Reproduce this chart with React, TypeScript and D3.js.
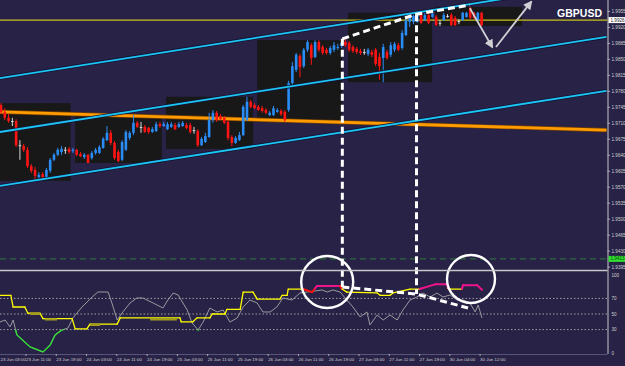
import * as d3 from "d3";

// hourly GBPUSD bars, [open, high, low, close]
const candles: [number, number, number, number][] = [
  [1.9750, 1.9754, 1.9730, 1.9735], [1.9735, 1.9743, 1.9717, 1.9722], [1.9722, 1.9730, 1.9711, 1.9715], [1.9715, 1.9722, 1.9704, 1.9715],
  [1.9715, 1.9719, 1.9658, 1.9662], [1.9662, 1.9673, 1.9630, 1.9662], [1.9660, 1.9665, 1.9647, 1.9652], [1.9652, 1.9658, 1.9612, 1.9616],
  [1.9616, 1.9621, 1.9601, 1.9606], [1.9608, 1.9614, 1.9586, 1.9595], [1.9592, 1.9603, 1.9586, 1.9597], [1.9599, 1.9603, 1.9588, 1.9592],
  [1.9592, 1.9612, 1.9590, 1.9608], [1.9606, 1.9634, 1.9601, 1.9630], [1.9630, 1.9645, 1.9627, 1.9641], [1.9641, 1.9656, 1.9638, 1.9652],
  [1.9647, 1.9660, 1.9641, 1.9654], [1.9652, 1.9658, 1.9643, 1.9652], [1.9654, 1.9658, 1.9643, 1.9647], [1.9649, 1.9656, 1.9645, 1.9652],
  [1.9652, 1.9654, 1.9638, 1.9641], [1.9643, 1.9647, 1.9636, 1.9638], [1.9636, 1.9645, 1.9632, 1.9641], [1.9641, 1.9643, 1.9625, 1.9623],
  [1.9634, 1.9649, 1.9630, 1.9645], [1.9645, 1.9656, 1.9641, 1.9652], [1.9645, 1.9662, 1.9643, 1.9658], [1.9656, 1.9680, 1.9654, 1.9676],
  [1.9673, 1.9704, 1.9671, 1.9689], [1.9689, 1.9695, 1.9662, 1.9667], [1.9667, 1.9671, 1.9630, 1.9634], [1.9647, 1.9652, 1.9625, 1.9627],
  [1.9630, 1.9673, 1.9627, 1.9669], [1.9652, 1.9695, 1.9649, 1.9691], [1.9678, 1.9693, 1.9673, 1.9689], [1.9689, 1.9728, 1.9684, 1.9711],
  [1.9711, 1.9715, 1.9700, 1.9702], [1.9702, 1.9713, 1.9689, 1.9702], [1.9702, 1.9706, 1.9689, 1.9691], [1.9700, 1.9702, 1.9687, 1.9691],
  [1.9691, 1.9702, 1.9689, 1.9697], [1.9693, 1.9713, 1.9691, 1.9708], [1.9708, 1.9713, 1.9700, 1.9704], [1.9704, 1.9713, 1.9702, 1.9708],
  [1.9697, 1.9713, 1.9695, 1.9708], [1.9702, 1.9713, 1.9700, 1.9708], [1.9706, 1.9711, 1.9695, 1.9697], [1.9702, 1.9713, 1.9700, 1.9708],
  [1.9704, 1.9715, 1.9702, 1.9711], [1.9706, 1.9711, 1.9697, 1.9700], [1.9706, 1.9711, 1.9687, 1.9691], [1.9695, 1.9702, 1.9687, 1.9695],
  [1.9693, 1.9697, 1.9658, 1.9662], [1.9662, 1.9680, 1.9660, 1.9676], [1.9669, 1.9689, 1.9667, 1.9682], [1.9680, 1.9733, 1.9678, 1.9717],
  [1.9717, 1.9739, 1.9711, 1.9733], [1.9733, 1.9737, 1.9713, 1.9717], [1.9726, 1.9730, 1.9717, 1.9719], [1.9722, 1.9726, 1.9708, 1.9711],
  [1.9713, 1.9717, 1.9673, 1.9678], [1.9680, 1.9684, 1.9660, 1.9667], [1.9667, 1.9682, 1.9665, 1.9678], [1.9673, 1.9691, 1.9671, 1.9684],
  [1.9684, 1.9750, 1.9682, 1.9746], [1.9717, 1.9768, 1.9715, 1.9757], [1.9757, 1.9761, 1.9743, 1.9746], [1.9750, 1.9754, 1.9741, 1.9743],
  [1.9746, 1.9750, 1.9737, 1.9739], [1.9743, 1.9748, 1.9733, 1.9737], [1.9739, 1.9743, 1.9730, 1.9733], [1.9728, 1.9737, 1.9726, 1.9733],
  [1.9728, 1.9748, 1.9726, 1.9743], [1.9735, 1.9743, 1.9733, 1.9739], [1.9737, 1.9741, 1.9726, 1.9730], [1.9735, 1.9739, 1.9713, 1.9717],
  [1.9739, 1.9803, 1.9735, 1.9798], [1.9798, 1.9844, 1.9794, 1.9835], [1.9827, 1.9864, 1.9822, 1.9860], [1.9857, 1.9862, 1.9811, 1.9833],
  [1.9835, 1.9875, 1.9831, 1.9871], [1.9871, 1.9892, 1.9866, 1.9888], [1.9881, 1.9886, 1.9838, 1.9853], [1.9855, 1.9892, 1.9853, 1.9888],
  [1.9888, 1.9892, 1.9866, 1.9871], [1.9877, 1.9881, 1.9860, 1.9864], [1.9871, 1.9875, 1.9860, 1.9864], [1.9864, 1.9879, 1.9860, 1.9875],
  [1.9871, 1.9888, 1.9866, 1.9881], [1.9875, 1.9884, 1.9871, 1.9877], [1.9879, 1.9892, 1.9875, 1.9886], [1.9888, 1.9897, 1.9877, 1.9881],
  [1.9886, 1.9890, 1.9866, 1.9871], [1.9877, 1.9881, 1.9864, 1.9868], [1.9873, 1.9877, 1.9862, 1.9866], [1.9868, 1.9873, 1.9860, 1.9864],
  [1.9866, 1.9873, 1.9860, 1.9866], [1.9862, 1.9875, 1.9857, 1.9871], [1.9866, 1.9871, 1.9855, 1.9860], [1.9871, 1.9875, 1.9835, 1.9840],
  [1.9855, 1.9864, 1.9805, 1.9835], [1.9853, 1.9884, 1.9800, 1.9877], [1.9866, 1.9871, 1.9849, 1.9853], [1.9860, 1.9888, 1.9855, 1.9881],
  [1.9871, 1.9888, 1.9866, 1.9884], [1.9881, 1.9886, 1.9868, 1.9871], [1.9875, 1.9914, 1.9871, 1.9908], [1.9903, 1.9945, 1.9901, 1.9936],
  [1.9932, 1.9949, 1.9921, 1.9943], [1.9932, 1.9952, 1.9927, 1.9945], [1.9932, 1.9952, 1.9930, 1.9947], [1.9947, 1.9952, 1.9927, 1.9930],
  [1.9936, 1.9952, 1.9934, 1.9947], [1.9947, 1.9952, 1.9927, 1.9930], [1.9943, 1.9952, 1.9941, 1.9950], [1.9943, 1.9947, 1.9923, 1.9925],
  [1.9930, 1.9936, 1.9923, 1.9930], [1.9936, 1.9952, 1.9934, 1.9947], [1.9945, 1.9949, 1.9941, 1.9945], [1.9947, 1.9952, 1.9923, 1.9925],
  [1.9941, 1.9945, 1.9923, 1.9925], [1.9934, 1.9938, 1.9927, 1.9934], [1.9936, 1.9954, 1.9934, 1.9952], [1.9943, 1.9954, 1.9941, 1.9952],
  [1.9962, 1.9965, 1.9938, 1.9941], [1.9952, 1.9954, 1.9938, 1.9941], [1.9936, 1.9954, 1.9934, 1.9952], [1.9952, 1.9954, 1.9923, 1.9925],
];

// daily range boxes: [from bar, to bar, high, low]
const dayBoxes: [number, number, number, number][] = [
  [-6, 18.4, 1.9754, 1.9584],
  [19.6, 42.5, 1.9728, 1.9623],
  [43.6, 66.6, 1.9768, 1.9654],
  [67.7, 90.1, 1.9892, 1.9713],
  [91.7, 113.9, 1.9952, 1.9800],
  [114.8, 137.7, 1.9965, 1.9923],
];

// trend channel and moving average lines: [bar, price, bar, price]
const channelLines: [number, number, number, number][] = [
  [-1, 1.9808, 160, 2.0018],
  [-1, 1.9690, 160, 1.9899],
  [-1, 1.9572, 160, 1.9781],
];
const orangeLine: [number, number, number, number] = [-1, 1.9735, 160, 1.9695];

const priceTicks = [1.9955, 1.9920, 1.9885, 1.9850, 1.9815, 1.9780, 1.9745, 1.9710, 1.9675, 1.9640, 1.9605, 1.9570, 1.9535, 1.9500, 1.9465, 1.9430, 1.9395];
const bidLine = 1.9936;
const bidLabel = "1.9926";
const greenLevel = 1.9413;

const timeBars = [-1, 7, 15, 23, 31, 39, 47, 55, 63, 71, 79, 87, 95, 103, 111, 119, 127];
const timeLabels = ["23 Jun 03:00", "23 Jun 11:00", "23 Jun 19:00", "24 Jun 03:00", "24 Jun 11:00", "24 Jun 19:00", "25 Jun 03:00", "25 Jun 11:00", "25 Jun 19:00", "26 Jun 03:00", "26 Jun 11:00", "26 Jun 19:00", "27 Jun 03:00", "27 Jun 11:00", "27 Jun 19:00", "30 Jun 04:00", "30 Jun 12:00"];

const indTicks = [100, 70, 50, 30, 0];
const indLevels = [70, 50, 30];

// oscillator (thin gray), [bar, value]
const grayLine: [number, number][] = [
  [-0.3, 39.7], [1.1, 42.3], [2.4, 33.3], [3.2, 42.3], [4.2, 23.1], [7.7, 7.7], [11.1, 1.3], [13, 10.3], [14.3, 23.1], [16.1, 29.5],
  [17.7, 32.1], [19, 44.9], [21.4, 59], [24.1, 71.8], [25.6, 78.2], [28.3, 78.2], [29.3, 64.1], [30.7, 42.3], [32.2, 52.6], [34.1, 64.1],
  [35.9, 70.5], [37.5, 70.5], [40.2, 64.1], [42.8, 57.7], [44.1, 67.9], [45.5, 76.9], [46.8, 74.4], [49.2, 55.1], [50.5, 38.5], [52.1, 29.5],
  [53.4, 39.7], [55.2, 57.7], [57.1, 52.6], [58.7, 55.1], [60.5, 39.7], [62.4, 44.9], [64, 59], [65.8, 67.9], [67.7, 64.1], [69.2, 52.6],
  [71.1, 52.6], [72.9, 59], [74.5, 70.5], [76.9, 67.9], [79, 76.9], [80.9, 78.2], [83, 79.5], [84.8, 80.8], [86.2, 78.2], [87.7, 80.8],
  [89.6, 78.2], [91.4, 67.9], [93, 59], [94.9, 46.2], [96.7, 52.6], [97.5, 35.9], [99.4, 48.7], [101, 42.3], [102.8, 48.7], [104.7, 42.3],
  [106.2, 55.1], [108.1, 67.9], [109.9, 71.8], [111.5, 76.9], [113.4, 71.8], [115.2, 76.9], [116.8, 71.8], [118.7, 74.4], [120.5, 67.9], [122.1, 67.9],
  [123.9, 64.1], [125.3, 52.6], [126.1, 61.5], [127.1, 44.9],
];

// stepped strength line, [bar, value], segment colours y = yellow, r = red, m = magenta
const stepLine: [number, number][] = [
  [-0.5, 74], [2.6, 74], [3.2, 59], [6.3, 59], [7.1, 51], [10.3, 51], [11.1, 44], [18.8, 44], [19.6, 31], [22.7, 31],
  [23.5, 37], [30.7, 37], [31.5, 45], [47.3, 45], [47.6, 40], [50.7, 40], [51.8, 45], [55.2, 45], [55.8, 50], [59.2, 50],
  [59.7, 56], [63.2, 56], [64, 78], [66.6, 78], [67.7, 69], [73.7, 69], [74.3, 74], [75.6, 74], [75.9, 82], [79.8, 82],
  [82.2, 78], [83, 83], [83.5, 86], [89.6, 86], [90.1, 82], [91.4, 78], [99.4, 77], [100.2, 74], [102.8, 74], [103.6, 77],
  [108.1, 82], [110.7, 82], [111.3, 83], [114.7, 88], [117.9, 88], [118.1, 83], [118.7, 82], [121.8, 82], [122.1, 87], [125.8, 87],
  [127.1, 81],
];
const stepColors = "yyyyyyyyyyyyyyyyyyyyyyyyyyyyyrrmmryyyyyyymmmmyymmm";
const oliveSegs: [number, number, number][] = [[7.7, 10.3, 50], [11.6, 14.8, 43], [23.5, 26.2, 36], [39.4, 46.5, 43]];

// hand drawn objects
const dashMain: [number, number][] = [[90.2, 1.9895], [109.8, 1.9949], [123.9, 1.9969]];
const dashInd: [number, number][] = [[90.2, 84.6], [109.8, 75.6], [123.4, 57.7]];
const dashVerticals: [number, number, number][] = [[90.2, 1.9895, 84.6], [109.8, 1.9949, 75.6]];
const arrows: [number, number, number, number][] = [[123.9, 1.9962, 129.8, 1.9877], [130.8, 1.9877, 140.1, 1.9976]];
const circles: [number, number, number][] = [[86.2, 91, 26], [124.2, 94.9, 24]];

const BG = "#272246";
const AXIS = "#c4c4c4";
const TEXT = "#d0d0d0";
const FONT = "'Liberation Sans', Arial, sans-serif";
const stepColorMap: Record<string, string> = { y: "#ffff00", r: "#ff1010", m: "#f0148c" };

export default function App() {
  const width = 625;
  const height = 366;
  const paneRight = 607.5;
  const mainBottom = 270;
  const indTop = 271;
  const indBottom = 354;

  const x = d3.scaleLinear([0, 127], [1, 481.6]);
  const y = d3.scaleLinear([1.998, 1.9395], [0, 267.1]);
  const yi = d3.scaleLinear([0, 100], [353, 275]);

  const grayPath = d3.line<[number, number]>(d => x(d[0]), d => yi(d[1]))(grayLine) ?? "";
  const dashMainPath = d3.line<[number, number]>(d => x(d[0]), d => y(d[1]))(dashMain) ?? "";
  const dashIndPath = d3.line<[number, number]>(d => x(d[0]), d => yi(d[1]))(dashInd) ?? "";

  return (
    <div style={{ position: "fixed", left: 0, top: 0 }}>
      <svg width={width} height={height} style={{ display: "block", background: BG }} fontFamily={FONT}>
        <defs>
          <clipPath id="mainClip"><rect x={0} y={0} width={paneRight} height={mainBottom} /></clipPath>
          <clipPath id="indClip"><rect x={0} y={indTop} width={paneRight} height={indBottom - indTop} /></clipPath>
          <clipPath id="lowClip"><rect x={0} y={yi(30)} width={paneRight} height={indBottom - yi(30)} /></clipPath>
          <marker id="arrowHead" viewBox="0 0 10 10" refX={8} refY={5} markerWidth={5} markerHeight={5} orient="auto-start-reverse">
            <path d="M0,0 L10,5 L0,10 z" fill="#cfcfd4" />
          </marker>
        </defs>
        <rect width={width} height={height} fill={BG} />

        <g clipPath="url(#mainClip)">
          {dayBoxes.map(([a, b, hi, lo], k) => (
            <rect key={k} x={x(a)} width={x(b) - x(a)} y={y(hi)} height={y(lo) - y(hi)} fill="#181818" />
          ))}
          <line x1={0} x2={paneRight} y1={y(bidLine)} y2={y(bidLine)} stroke="#c8c020" strokeWidth={1.2} />
          <line x1={0} x2={paneRight} y1={y(greenLevel)} y2={y(greenLevel)} stroke="#2f6a3c" strokeWidth={1.4} strokeDasharray="6,4" />
          {[orangeLine].map(([a, pa, b, pb], k) => (
            <g key={k}>
              <line x1={x(a)} y1={y(pa)} x2={x(b)} y2={y(pb)} stroke="#7a4000" strokeWidth={4.2} />
              <line x1={x(a)} y1={y(pa)} x2={x(b)} y2={y(pb)} stroke="#ff9c00" strokeWidth={2.8} />
            </g>
          ))}
          {candles.map(([o, h, l, c], i) => {
            const cx = x(i);
            const col = o === c ? "#d8d8d8" : c > o ? "#2a8cf5" : "#ff1414";
            const top = y(Math.max(o, c));
            const bot = y(Math.min(o, c));
            return (
              <g key={i}>
                <line x1={cx} x2={cx} y1={y(h)} y2={y(l)} stroke={col} strokeWidth={1} />
                <rect x={cx - 1.3} width={2.6} y={top} height={Math.max(1, bot - top)} fill={col} />
              </g>
            );
          })}
          {channelLines.map(([a, pa, b, pb], k) => (
            <g key={k}>
              <line x1={x(a)} y1={y(pa)} x2={x(b)} y2={y(pb)} stroke="#141436" strokeWidth={3.4} />
              <line x1={x(a)} y1={y(pa)} x2={x(b)} y2={y(pb)} stroke="#1cc6f4" strokeWidth={1.8} />
            </g>
          ))}
          <path d={dashMainPath} fill="none" stroke="#ffffff" strokeWidth={3} strokeDasharray="7,4" />
          {arrows.map(([a, pa, b, pb], k) => (
            <line key={k} x1={x(a)} y1={y(pa)} x2={x(b)} y2={y(pb)} stroke="#cfcfd4" strokeWidth={1.8} markerEnd="url(#arrowHead)" />
          ))}
        </g>

        <g clipPath="url(#indClip)">
          {indLevels.map(v => (
            <line key={v} x1={0} x2={paneRight} y1={yi(v)} y2={yi(v)} stroke="#a0a0a0" strokeWidth={1} strokeDasharray="1.5,2" />
          ))}
          <path d={grayPath} fill="none" stroke="#9a9aa0" strokeWidth={1} />
          <path d={grayPath} fill="none" stroke="#33dd33" strokeWidth={1.4} clipPath="url(#lowClip)" />
          {stepLine.slice(0, -1).map((p, k) => {
            const q = stepLine[k + 1];
            return (
              <line key={k} x1={x(p[0])} y1={yi(p[1])} x2={x(q[0])} y2={yi(q[1])}
                stroke={stepColorMap[stepColors[k]]} strokeWidth={stepColors[k] === "y" ? 1.3 : 2} strokeLinecap="round" />
            );
          })}
          {oliveSegs.map(([a, b, v], k) => (
            <line key={k} x1={x(a)} x2={x(b)} y1={yi(v)} y2={yi(v)} stroke="#a49c1c" strokeWidth={2.2} />
          ))}
          <path d={dashIndPath} fill="none" stroke="#ffffff" strokeWidth={3} strokeDasharray="7,4" />
        </g>

        {dashVerticals.map(([b, p, v], k) => (
          <line key={k} x1={x(b)} x2={x(b)} y1={y(p)} y2={yi(v)} stroke="#ffffff" strokeWidth={3} strokeDasharray="7,4" />
        ))}
        {circles.map(([b, v, r], k) => (
          <circle key={k} cx={x(b)} cy={yi(v)} r={r} fill="none" stroke="#ffffff" strokeWidth={2.4} />
        ))}

        {/* pane borders */}
        <line x1={0} x2={paneRight} y1={mainBottom + 0.5} y2={mainBottom + 0.5} stroke="#c8c8c8" strokeWidth={1.5} />
        <line x1={paneRight + 0.5} x2={paneRight + 0.5} y1={0} y2={indBottom} stroke={AXIS} strokeWidth={1} />
        <line x1={0} x2={paneRight} y1={indBottom + 0.5} y2={indBottom + 0.5} stroke="#55557a" strokeWidth={1} />

        <text x={602} y={16.5} textAnchor="end" fontSize={10.5} fontWeight="bold" fill="#ffffff">GBPUSD</text>

        {/* price axis */}
        {priceTicks.map(p => (
          <g key={p}>
            <line x1={paneRight} x2={paneRight + 2.5} y1={y(p)} y2={y(p)} stroke={AXIS} strokeWidth={0.8} />
            <text x={611.5} y={y(p)} dy="0.35em" fontSize={4.6} fill={TEXT}>{p.toFixed(4)}</text>
          </g>
        ))}
        <rect x={608.5} y={y(bidLine) - 3} width={16.5} height={6} fill="#ffffff" />
        <text x={610.5} y={y(bidLine)} dy="0.35em" fontSize={4.6} fill="#222222">{bidLabel}</text>
        <rect x={608.5} y={y(greenLevel) - 3} width={16.5} height={6} fill="#2ee02e" />
        <text x={610.5} y={y(greenLevel)} dy="0.35em" fontSize={4.6} fill="#114411">{greenLevel.toFixed(4)}</text>

        {/* indicator axis */}
        {indTicks.map(v => (
          <text key={v} x={611.5} y={yi(v)} dy="0.35em" fontSize={4.6} fill={TEXT}>{v}</text>
        ))}

        {/* time axis */}
        {timeBars.map((b, k) => (
          <g key={b}>
            <line x1={x(b) - 1.5} x2={x(b) - 1.5} y1={indBottom} y2={indBottom + 2} stroke={AXIS} strokeWidth={0.8} />
            <text x={Math.max(0.5, x(b) - 1.5)} y={361} fontSize={4.4} fill={TEXT}>{timeLabels[k]}</text>
          </g>
        ))}
      </svg>
    </div>
  );
}
